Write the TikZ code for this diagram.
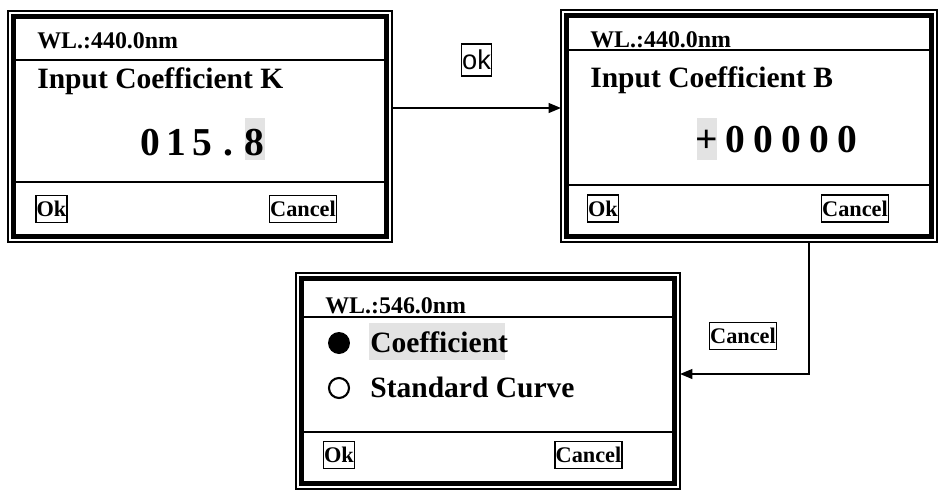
\documentclass[tikz,border=0pt]{standalone}
\usepackage{fontspec}
\setmainfont{Liberation Serif}
\newfontfamily\sansok{Liberation Sans}
\usepackage{tikz}
\usetikzlibrary{arrows.meta, calc}

\begin{document}
\begin{tikzpicture}[x=0.02cm, y=-0.02cm, line cap=round,
  finestra/.style={draw, line width=0.8pt, inner sep=0pt, outer sep=0pt,
    path picture={\draw[line width=2.5pt]
      ([xshift=0.11cm,yshift=0.11cm]path picture bounding box.south west) rectangle
      ([xshift=-0.11cm,yshift=-0.11cm]path picture bounding box.north east);}},
  divisore/.style={line width=1.1pt},
  titolo/.style={anchor=base west, inner sep=0pt, font=\fontsize{13.6}{16}\selectfont\bfseries},
  voce/.style={anchor=base west, inner sep=0pt, font=\fontsize{16.8}{20}\selectfont\bfseries},
  cifra/.style={anchor=base, inner sep=0pt, font=\fontsize{22.5}{26}\selectfont\bfseries},
  tasto/.style={draw, line width=0.9pt, inner xsep=0.3pt, inner ysep=0pt, minimum height=0.54cm,
    font=\fontsize{12.7}{15}\selectfont\bfseries},
  etichetta/.style={draw, line width=0.8pt, inner sep=0.5pt, minimum width=0.58cm,
    minimum height=0.64cm, font=\fontsize{15.5}{18}\selectfont\sansok},
  radiopieno/.style={circle, fill=black, inner sep=0pt, minimum size=0.44cm},
  radiovuoto/.style={circle, draw, line width=1.2pt, inner sep=0pt, minimum size=0.4cm},
  freccia/.style={line width=1pt, -{Triangle[length=7pt,width=5.5pt]}},
  evidenza/.style={fill=gray!22}]

\useasboundingbox[fill=white] (0,0) rectangle (938,491);

% --- Finestra 1: coefficiente K ---
\node[finestra, minimum width=7.68cm, minimum height=4.62cm] (dlgK) at (200,126.5) {};
\draw[divisore] (14,60) -- (386,60);
\draw[divisore] (14,182) -- (386,182);
\node[titolo] (titK) at (37,48) {WL.:440.0nm};
\node[voce] (voceK) at (37,88) {Input Coefficient K};
\fill[evidenza] (245,118) rectangle (265,160);
\foreach \c [count=\i from 0] in {0,1,5,.,8}
  \node[cifra] (k\i) at (150+26*\i,155) {\c};
\node[tasto] (okK) at (51.5,209) {Ok};
\node[tasto] (canK) at (303,209) {Cancel};

% --- Finestra 2: coefficiente B ---
\node[finestra, minimum width=7.52cm, minimum height=4.64cm] (dlgB) at (749,126) {};
\draw[divisore] (566,50) -- (932,50);
\draw[divisore] (566,185) -- (932,185);
\node[titolo] (titB) at (590,47) {WL.:440.0nm};
\node[voce] (voceB) at (590,87) {Input Coefficient B};
\fill[evidenza] (697,118) rectangle (717,160);
\foreach \c [count=\i from 0] in {+,0,0,0,0,0}
  \node[cifra] (b\i) at (707+28*\i,152) {\c};
\node[tasto] (okB) at (603,208.5) {Ok};
\node[tasto] (canB) at (855,208.5) {Cancel};

% --- Finestra 3: scelta del metodo ---
\node[finestra, minimum width=7.68cm, minimum height=4.32cm] (dlgC) at (488,381) {};
\draw[divisore] (300,317) -- (676,317);
\draw[divisore] (300,432) -- (676,432);
\node[titolo] (titC) at (325,313) {WL.:546.0nm};
\fill[evidenza] (369,323) rectangle (505,360);
\node[radiopieno] (rCoef) at (339,343) {};
\node[voce] (voceCoef) at (370,352) {Coefficient};
\node[radiovuoto] (rCurva) at (339,388) {};
\node[voce] (voceCurva) at (370,397) {Standard Curve};
\node[tasto] (okC) at (339,455) {Ok};
\node[tasto] (canC) at (588.5,455) {Cancel};

% --- Frecce e tasti premuti ---
\node[etichetta] (lblOk) at (476.5,60) {ok};
\node[tasto] (lblCancel) at (743,336) {Cancel};
\coordinate (uscitaK) at ([yshift=0.37cm]dlgK.east);
\draw[freccia] (uscitaK) -- (uscitaK -| dlgB.west);
\coordinate (uscitaB) at ([xshift=1.2cm]dlgB.south);
\coordinate (entrataC) at ([yshift=0.14cm]dlgC.east);
\draw[freccia] (uscitaB) |- (entrataC);
\end{tikzpicture}
\end{document}
